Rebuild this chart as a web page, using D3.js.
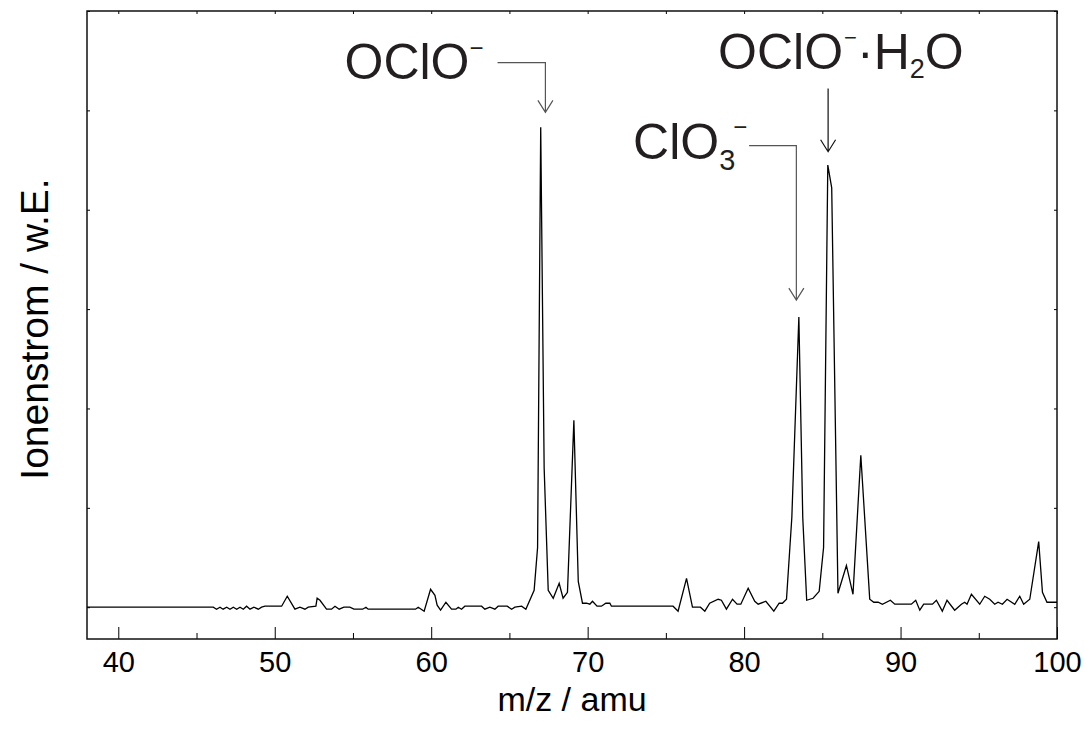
<!DOCTYPE html>
<html>
<head>
<meta charset="utf-8">
<script src="https://cdn.jsdelivr.net/npm/d3@7"></script>
<style>
  html, body { margin: 0; padding: 0; background: #fff; }
  svg { display: block; font-family: "Liberation Sans", Arial, sans-serif; }
</style>
</head>
<body>
<div id="chart"></div>
<script>
// spectrum (m/z in amu, signal in arbitrary units)
const mz = [38.0, 46.07, 46.28, 46.5, 46.7, 46.93, 47.14, 47.35, 47.57, 47.78, 47.99, 48.2, 48.42, 48.67, 48.95, 49.16, 49.37,
  50.44, 50.8, 51.29, 51.61, 51.93, 52.14, 52.63, 52.71, 52.89, 53.31, 53.63, 53.85, 54.12, 54.42, 54.8, 55.06, 55.62, 55.83, 55.97,
  59.0, 59.17, 59.55, 59.96, 60.24, 60.38, 60.6, 60.94, 61.3, 61.58, 61.73, 61.94, 62.15, 63.22, 63.43, 63.75, 64.07, 64.28, 64.86,
  65.14, 65.35, 65.78, 66.05, 66.58, 66.8, 67.0, 67.22, 67.48, 67.8, 68.18, 68.43, 68.71, 69.12, 69.4, 69.67, 69.93, 70.14, 70.31,
  70.6, 70.88, 71.16, 71.42, 71.52, 75.46, 75.78, 76.32, 76.7, 77.21, 77.49, 77.8, 78.34, 78.55, 78.87, 79.26, 79.55, 79.79, 80.26,
  80.68, 80.9, 81.39, 81.9, 82.24, 82.45, 82.71, 83.05, 83.5, 83.75, 84.0, 84.41, 84.8, 85.08, 85.35, 85.6, 86.0, 86.54, 86.96,
  87.46, 88.03, 88.29, 88.57, 88.84, 89.35, 89.63, 90.69, 90.97, 91.23, 91.48, 92.04, 92.29, 92.67, 92.97, 93.46, 93.89, 94.1,
  94.25, 94.53, 95.06, 95.38, 95.7, 96.02, 96.23, 96.51, 96.81, 97.3, 97.62, 97.87, 98.26, 98.83, 99.07, 99.36, 100.0];
const signal = [0, 0, -0.02, 0, -0.02, 0, -0.02, 0, -0.02, 0, -0.02, 0.01, -0.02, 0, -0.02, 0, 0.01,
  0.01, 0.11, -0.02, 0, -0.02, 0, 0.01, 0.09, 0.07, -0.02, -0.02, 0.01, -0.02, 0, 0, -0.02, -0.02, 0, -0.02,
  -0.02, 0, -0.04, 0.18, 0.12, 0.02, -0.03, 0.05, -0.02, -0.02, 0, -0.02, 0.01, 0.01, -0.02, 0, -0.02, 0.01, 0.01,
  -0.02, 0, 0.01, -0.02, 0.17, 0.6, 4.83, 1.4, 0.17, 0.09, 0.24, 0.09, 0.15, 1.88, 0.26, 0.04, 0.04, 0.03, 0.06,
  0.01, 0.01, 0.04, 0.04, 0.01, 0.01, -0.04, 0.29, 0, 0, -0.04, 0.04, 0.08, 0.07, -0.02, 0.08, 0.03, 0.03, 0.19,
  0.06, 0.03, 0.06, -0.04, 0.04, 0.04, 0.08, 0.9, 2.92, 0.9, 0.07, 0.09, 0.16, 0.6, 4.45, 4.22, 0.14, 0.42, 0.13,
  1.53, 0.08, 0.05, 0.05, 0.03, 0.07, 0.03, 0.03, 0.07, -0.03, 0.03, 0.03, 0.07, -0.04, 0.07, -0.03, 0.03, 0.05,
  0.03, 0.13, 0.03, 0.11, 0.08, 0.03, 0.05, 0.03, 0.08, 0.03, 0.11, 0.03, 0.08, 0.66, 0.15, 0.05, 0.05];

const xMajor = [40, 50, 60, 70, 80, 90, 100];
const xMinor = [45, 55, 65, 75, 85, 95];
const yTicks = [0, 1, 2, 3, 4, 5, 6];

// leader lines: arrow at annoMz, running from "top" down to "tip" (signal units),
// with an optional horizontal run starting at annoElbow
const annoMz    = [67.30, 83.34, 85.37];
const annoTop   = [5.48, 4.645, 5.22];
const annoTip   = [4.98, 3.09, 4.584];
const annoElbow = [64.24, 80.32, null];

const width = 1085, height = 731;
const margin = {top: 11, right: 28, bottom: 92, left: 87};

const svg = d3.select("#chart").append("svg")
    .attr("width", width)
    .attr("height", height);

const x = d3.scaleLinear().domain([38, 100]).range([margin.left, width - margin.right]);
const y = d3.scaleLinear().domain([-0.32, 6]).range([height - margin.bottom, margin.top]);

const ink = "#231f20";

// axes: all ticks point inwards
const bottomAxis = svg.append("g").attr("transform", `translate(0,${y.range()[0]})`);
bottomAxis.call(d3.axisBottom(x).tickValues(xMajor).tickSize(-12).tickPadding(12).tickFormat(d3.format("d")));
bottomAxis.append("g").call(d3.axisBottom(x).tickValues(xMinor).tickSize(-6).tickFormat(""));
bottomAxis.selectAll("text").attr("font-size", 29).attr("fill", "#000").attr("font-family", "Liberation Sans, Arial, sans-serif");

const topAxis = svg.append("g").attr("transform", `translate(0,${y.range()[1]})`);
topAxis.call(d3.axisTop(x).tickValues(xMajor.concat(xMinor)).tickSize(-3).tickFormat(""));

svg.append("g").attr("transform", `translate(${x.range()[0]},0)`)
    .call(d3.axisLeft(y).tickValues(yTicks).tickSize(-3).tickFormat(""));
svg.append("g").attr("transform", `translate(${x.range()[1]},0)`)
    .call(d3.axisRight(y).tickValues(yTicks).tickSize(-3).tickFormat(""));

svg.selectAll(".domain").remove();
svg.selectAll(".tick line").attr("stroke", "#000").attr("stroke-width", 1);

// frame
svg.append("rect")
    .attr("x", x.range()[0])
    .attr("y", y.range()[1])
    .attr("width", x.range()[1] - x.range()[0])
    .attr("height", y.range()[0] - y.range()[1])
    .attr("fill", "none")
    .attr("stroke", "#111")
    .attr("stroke-width", 1.5);

// spectrum
const points = mz.map((m, i) => [m, signal[i]]);
const line = d3.line().x(d => x(d[0])).y(d => y(d[1]));
svg.append("path")
    .datum(points)
    .attr("d", line)
    .attr("fill", "none")
    .attr("stroke", "#000")
    .attr("stroke-width", 1.3)
    .attr("stroke-linejoin", "miter");

// axis titles
svg.append("text")
    .attr("x", (x.range()[0] + x.range()[1]) / 2)
    .attr("y", 711)
    .attr("text-anchor", "middle")
    .attr("font-size", 34)
    .attr("fill", "#000")
    .text("m/z / amu");

svg.append("text")
    .attr("transform", "translate(48,329) rotate(-90)")
    .attr("text-anchor", "middle")
    .attr("font-size", 39)
    .attr("fill", "#000")
    .text("Ionenstrom / w.E.");

// leader lines with open arrow heads
annoMz.forEach((m, i) => {
    const ax = x(m), y0 = y(annoTop[i]), y1 = y(annoTip[i]);
    const col = annoElbow[i] === null ? "#111" : "#555";
    let d = annoElbow[i] === null ? `M${ax},${y0}` : `M${x(annoElbow[i])},${y0}H${ax}`;
    d += `V${y1}M${ax - 7.5},${y1 - 12}L${ax},${y1}L${ax + 7.5},${y1 - 12}`;
    svg.append("path").attr("d", d).attr("fill", "none").attr("stroke", col).attr("stroke-width", 1.2);
});

// labels
const l1 = svg.append("text").attr("x", x(64.24) - 153).attr("y", y(5.315)).attr("font-size", 50).attr("fill", ink);
l1.append("tspan").text("OClO");
l1.append("tspan").attr("font-size", 24).attr("dy", -23).attr("dx", 0).text("−");

const l2 = svg.append("text").attr("x", x(80.32) - 116).attr("y", y(4.507)).attr("font-size", 50).attr("fill", ink);
l2.append("tspan").text("ClO");
l2.append("tspan").attr("font-size", 29).attr("dy", 11).attr("dx", 0).text("3");
l2.append("tspan").attr("font-size", 24).attr("dy", -35).attr("dx", -2).text("−");

const l3 = svg.append("text").attr("x", x(85.37) - 110).attr("y", y(5.413)).attr("font-size", 50).attr("fill", ink);
l3.append("tspan").text("OClO");
l3.append("tspan").attr("font-size", 22).attr("dy", -24).attr("dx", 1).text("−");
l3.append("tspan").attr("dy", 24).attr("dx", 0).text("·");
l3.append("tspan").attr("dx", 0).text("H");
l3.append("tspan").attr("font-size", 27).attr("dy", 9).attr("dx", 0).text("2");
l3.append("tspan").attr("dy", -9).attr("dx", 0).text("O");
</script>
</body>
</html>
